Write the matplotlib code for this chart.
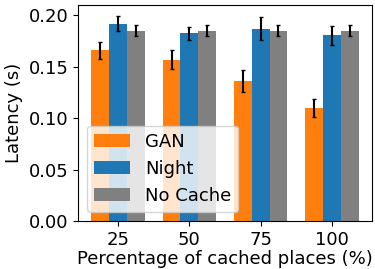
import matplotlib
matplotlib.use('Agg')
import matplotlib.pyplot as plt
import numpy as np

# Data
places = ['25', '50', '75', '100']
gan = [0.166, 0.157, 0.136, 0.110]
gan_err = [0.008, 0.009, 0.0105, 0.0085]
night = [0.192, 0.1825, 0.187, 0.1805]
night_err = [0.0075, 0.0065, 0.011, 0.0095]
nocache = [0.185, 0.185, 0.185, 0.185]
nocache_err = [0.0055, 0.0055, 0.0055, 0.0055]

plt.rcParams['font.size'] = 13

fig, ax = plt.subplots(figsize=(3.75, 2.69), dpi=100)
x = np.arange(len(places))
w = 0.25

ax.bar(x - w, gan, w, yerr=gan_err, capsize=1.5, color='#ff7f0e', label='GAN')
ax.bar(x, night, w, yerr=night_err, capsize=1.5, color='#1f77b4', label='Night')
ax.bar(x + w, nocache, w, yerr=nocache_err, capsize=1.5, color='grey', label='No Cache')

ax.set_xticks(x)
ax.set_xticklabels(places)
ax.set_ylim(0, 0.21)
ax.set_yticks([0.0, 0.05, 0.10, 0.15, 0.20])
ax.set_xlabel('Percentage of cached places (%)', labelpad=1)
ax.set_ylabel('Latency (s)')
ax.legend(loc='lower left')

fig.subplots_adjust(left=0.208, right=0.992, top=0.981, bottom=0.178)
plt.savefig('out.png', dpi=100)
